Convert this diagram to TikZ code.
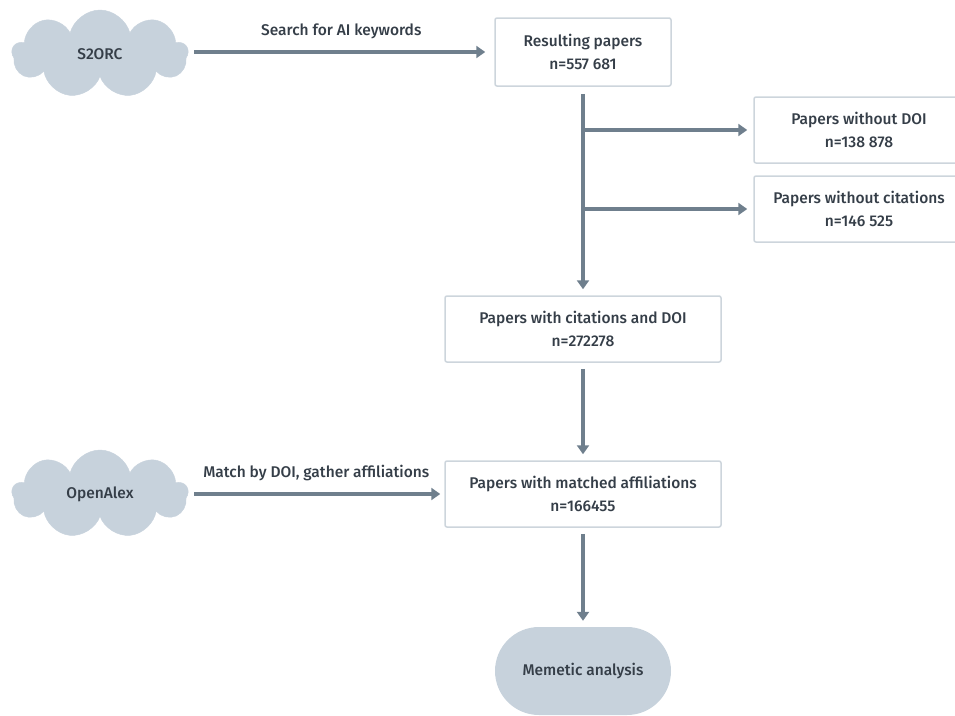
\documentclass[tikz,border=0pt]{standalone}
\usepackage{fontspec}
\setmainfont{Fira Sans Medium}
\usepackage{tikz}
\usetikzlibrary{shapes,arrows.meta,positioning}

\definecolor{flow}{HTML}{6F7F8D}
\definecolor{boxline}{HTML}{CDD5DC}
\definecolor{cloudfill}{HTML}{C7D2DC}
\definecolor{ink}{HTML}{353E48}

\begin{document}
\begin{tikzpicture}[x=1pt,y=-1pt,
	font=\fontsize{15.5}{23}\selectfont, text=ink,
	box/.style={draw=boxline, line width=1.5pt, rounded corners=2pt, fill=white,
		minimum width=176pt, minimum height=68pt, align=center},
	widebox/.style={box, minimum width=276pt, minimum height=66pt},
	source/.style={shape=cloud, cloud puffs=9, aspect=2, fill=cloudfill, draw=cloudfill,
		minimum width=176pt, minimum height=88pt},
	flowarrow/.style={draw=flow, line width=3.2pt, -{Triangle[length=9pt,width=12pt]}}]
	\useasboundingbox (0,0) rectangle (955,715);

	\node[source] (s2orc) at (100,54) {S2ORC};
	\node[source] (openalex) at (100,494) {OpenAlex};

	\node[box] (res) at (583,52) {Resulting papers\\n=557 681};
	\node[box, minimum width=210pt, minimum height=66pt] (nodoi) at (859,130) {Papers without DOI\\n=138 878};
	\node[box, minimum width=210pt, minimum height=66pt] (nocit) at (859,209) {Papers without citations\\n=146 525};
	\node[widebox] (cit) at (583,329) {Papers with citations and DOI\\n=272278};
	\node[widebox] (aff) at (583,494) {Papers with matched affiliations\\n=166455};
	\node[fill=cloudfill, rounded corners=44pt, minimum width=176pt, minimum height=88pt] (meme) at (583,671) {Memetic analysis};

	\path (s2orc.east |- res.west) edge[flowarrow, shorten <=6pt, shorten >=9pt] node[midway, above=8pt] {Search for AI keywords} (res.west);
	\path (openalex.east |- aff.west) edge[flowarrow, shorten <=6pt, shorten >=4pt] node[midway, above=8pt] {Match by DOI, gather affiliations} (aff.west);

	\path (res) edge[flowarrow, shorten <=7pt, shorten >=6pt] (cit);
	\path (res.south |- nodoi.west) edge[flowarrow, shorten >=6pt] (nodoi);
	\path (res.south |- nocit.west) edge[flowarrow, shorten >=6pt] (nocit);
	\path (cit) edge[flowarrow, shorten <=6pt, shorten >=6pt] (aff);
	\path (aff) edge[flowarrow, shorten <=6pt, shorten >=6pt] (meme);
\end{tikzpicture}
\end{document}
